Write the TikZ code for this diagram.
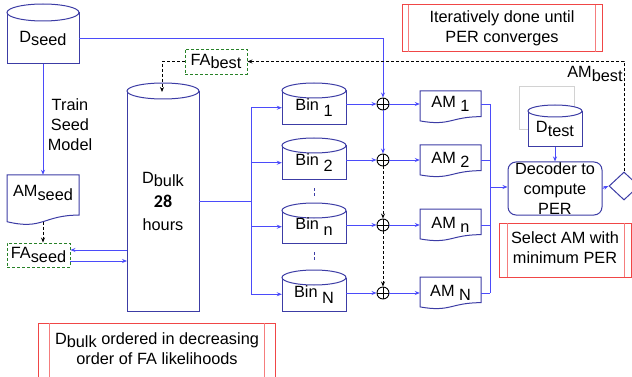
\documentclass[tikz,border=0pt]{standalone}
\usepackage{fontspec}
\setmainfont{Liberation Sans}
\newfontfamily\carlito{Carlito}
\usetikzlibrary{arrows.meta,shapes.geometric}
\definecolor{shpblue}{RGB}{60,60,165}
\definecolor{lnblue}{RGB}{75,75,250}
\definecolor{fagreen}{RGB}{40,130,40}
\definecolor{redln}{RGB}{240,70,70}
\definecolor{redin}{RGB}{245,125,125}
\newcommand\lo[1]{\raisebox{-0.2em}{#1}}
\newcommand\lob[1]{\raisebox{-0.35em}{#1}}
% left right top bottom ry
\newcommand\cylshape[5]{%
  \filldraw[shp,fill=white] (#1,#3+#5) -- (#1,#4) -- (#2,#4) -- (#2,#3+#5);
  \filldraw[shp,fill=white] ({(#1+#2)/2},#3+#5) ellipse [x radius={(#2-#1)/2}, y radius=#5];}
% left right top height
\newcommand\docshape[4]{%
  \filldraw[shp,fill=white] (#1,#3) -- (#2,#3) -- (#2,#3+0.802*#4)
    .. controls ({(#1+#2)/2},#3+0.802*#4) and ({(#1+#2)/2},#3+1.1075*#4) .. (#1,#3+0.934*#4) -- cycle;}
% l r t b il ir
\newcommand\redframe[6]{%
  \draw[redbox] (#1,#3) rectangle (#2,#4);
  \draw[redbox,draw=redin] (#5,#3) -- (#5,#4) (#6,#3) -- (#6,#4);}
\begin{document}
\begin{tikzpicture}[x=1pt,y=-1pt,
  every node/.style={font=\fontsize{16.3}{20}\selectfont},
  txt/.style={inner sep=0pt,align=center},
  shp/.style={draw=shpblue,line width=1pt},
  ln/.style={draw=lnblue,line width=0.9pt},
  arr/.style={ln,-{Stealth[length=5pt,width=4pt]}},
  dsh/.style={draw=black,line width=0.8pt,dash pattern=on 3pt off 2pt},
  dsharr/.style={dsh,-{Stealth[length=5pt,width=4pt]}},
  fabox/.style={draw=fagreen,line width=0.9pt,dash pattern=on 3pt off 2pt,inner sep=0pt},
  redbox/.style={draw=redln,line width=1pt},
  plus/.style={circle,draw=black,line width=0.9pt,minimum size=12pt,inner sep=0pt,fill=white,
    path picture={\draw[black,line width=0.9pt] (path picture bounding box.north) -- (path picture bounding box.south)
      (path picture bounding box.west) -- (path picture bounding box.east);}},
  bindots/.style={draw=shpblue,line width=0.9pt,dash pattern=on 3pt off 2pt}]
\useasboundingbox (0,0) rectangle (632,377);
\clip (0,0) rectangle (632,377);

% red note boxes
\redframe{402}{602}{5}{52}{408}{595}
\node[txt] (iter) at (502,28) {Iteratively done until\\PER converges};
\redframe{499}{631.5}{223}{277}{507}{624}
\node[txt] (sel) at (565,248) {Select AM with\\minimum PER};
\redframe{38}{275}{323}{385}{49}{264}
\node[txt] (ord) at (157,348.5) {D\lo{bulk} ordered in decreasing\\order of FA likelihoods};

% D_seed
\cylshape{7}{79}{4}{64}{8.5}
\node[txt,minimum width=72pt,minimum height=51.5pt] (dseed) at (43,38.25) {D\lo{seed}};

% AM_seed
\docshape{7}{79}{175}{50}
\node[txt,minimum width=72pt,minimum height=36pt] (amseed) at (43,193) {AM\lo{seed}};
\coordinate (amseedb) at (43,221.6);
\node[txt] (trainlbl) at (70,125) {Train\\Seed\\Model};
\draw[arr] (dseed.south) -- (amseed.north);

% FA_seed
\node[fabox,minimum width=63pt,minimum height=24pt] (faseed) at (38.5,255) {FA\lo{seed}};
\draw[dsharr] (amseedb) -- (amseedb |- faseed.north);

% D_bulk
\cylshape{127}{199}{83}{311}{8}
\node[txt,minimum width=72pt,minimum height=220pt] (dbulk) at (163,201)
  {D\lo{bulk}\\[4pt]{\carlito\bfseries\fontsize{18}{20}\selectfont 28}\\[3pt]hours};
\coordinate (bk1) at (127,250);
\coordinate (bk2) at (127,261);
\draw[arr] (bk1) -- (bk1 -| faseed.east);
\draw[arr] (bk2 -| faseed.east) -- (bk2);

% FA_best
\node[fabox,minimum width=62pt,minimum height=25pt] (fabest) at (216,61.5) {FA\lo{best}};
\coordinate (dbtop) at (162,92);
\draw[dsharr] (fabest.west) -| (dbtop);

% bins
\cylshape{282}{346}{83}{125}{7.5}
\node[txt,minimum width=64pt,minimum height=34.5pt] (bin1) at (314,107.75) {Bin \lob{1}};
\cylshape{282}{346}{138}{180}{7.5}
\node[txt,minimum width=64pt,minimum height=34.5pt] (bin2) at (314,162.75) {Bin \lob{2}};
\cylshape{282}{346}{203}{243}{7.5}
\node[txt,minimum width=64pt,minimum height=32.5pt] (binn) at (314,226.75) {Bin \lob{n}};
\cylshape{282}{346}{270}{311}{7.5}
\node[txt,minimum width=64pt,minimum height=33.5pt] (binN) at (314,294.25) {Bin \lob{N}};
\draw[bindots] ([yshift=-8pt]bin2.south) -- ([yshift=-17pt]bin2.south);
\draw[bindots] ([yshift=-9pt]binn.south) -- ([yshift=-17pt]binn.south);

% branch from D_bulk
\coordinate (br) at (251,201);
\draw[ln] (dbulk.east) -- (br);
\draw[ln] (br |- bin1.west) -- (br |- binN.west);
\draw[arr] (br |- bin1.west) -- (bin1.west);
\draw[arr] (br |- bin2.west) -- (bin2.west);
\draw[arr] (br |- binn.west) -- (binn.west);
\draw[arr] (br |- binN.west) -- (binN.west);

% plus nodes
\node[plus] (p1) at (383,104) {};
\node[plus] (p2) at (383,160) {};
\node[plus] (pn) at (383,225) {};
\node[plus] (pN) at (383,293) {};
\draw[arr] (p1 -| bin1.east) -- (p1);
\draw[arr] (p2 -| bin2.east) -- (p2);
\draw[arr] (pn -| binn.east) -- (pn);
\draw[arr] (pN -| binN.east) -- (pN);
\draw[arr] (dseed.east) -| (p1);
\draw[arr] (p1) -- (p2);
\draw[dsharr] (p2) -- (pn);
\draw[dsharr] (pn) -- (pN);

% AM documents
\docshape{420}{481}{91}{32}
\node[txt,minimum width=61pt,minimum height=20pt] (am1) at (450.5,104) {AM \lo{1}};
\docshape{420}{481}{145}{32}
\node[txt,minimum width=61pt,minimum height=20pt] (am2) at (450.5,160) {AM \lo{2}};
\docshape{420}{481}{209}{32}
\node[txt,minimum width=61pt,minimum height=20pt] (amn) at (450.5,225) {AM \lo{n}};
\docshape{420}{481}{277}{32}
\node[txt,minimum width=61pt,minimum height=20pt] (amN) at (450.5,293) {AM \lo{N}};
\draw[arr] (p1) -- (p1 -| am1.west);
\draw[arr] (p2) -- (p2 -| am2.west);
\draw[arr] (pn) -- (pn -| amn.west);
\draw[arr] (pN) -- (pN -| amN.west);

% join to decoder
\coordinate (jx) at (490,187);
\draw[ln] (am1.east) -- (am1.east -| jx);
\draw[ln] (am2.east) -- (am2.east -| jx);
\draw[ln] (amn.east) -- (amn.east -| jx);
\draw[ln] (amN.east) -- (amN.east -| jx);
\draw[ln] (am1.east -| jx) -- (amN.east -| jx);

% decoder and D_test
\node[txt,shp,rounded corners=8pt,minimum width=94pt,minimum height=53pt] (dec) at (555,188.5) {Decoder to\\compute\\PER};
\draw[arr] (jx) -- (jx -| dec.west);
\draw[gray!35,line width=0.6pt] (519,86) rectangle (574,129);
\cylshape{528}{582}{105}{147}{6}
\node[txt,minimum width=54pt,minimum height=36pt] (dtest) at (555,129) {D\lo{test}};
\draw[arr] (dtest.south) -- (dec.north);

% diamond and feedback loop
\node[diamond,shp,minimum width=30pt,minimum height=28pt,inner sep=0pt,aspect=1.07] (dia) at (624,186) {};
\draw[arr] (dec.east) -- (dia.west);
\draw[dsharr] (dia.north) |- (fabest.east);
\node[txt] (ambest) at (595,74) {AM\lo{best}};
\end{tikzpicture}
\end{document}
